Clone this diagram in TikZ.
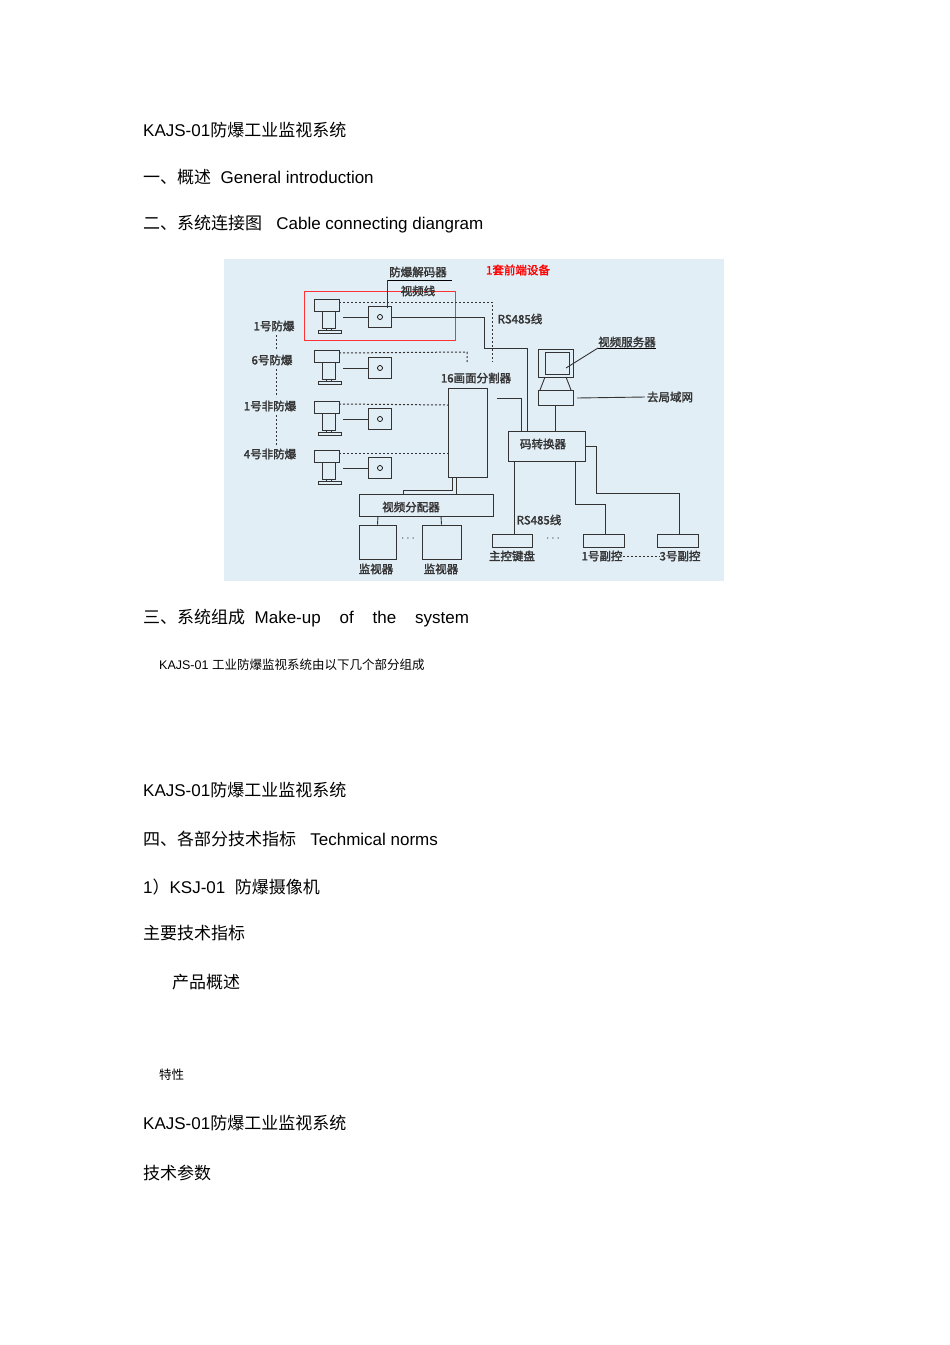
\documentclass[tikz,border=0pt]{standalone}
\usepackage{fontspec}
\setmainfont{Liberation Sans}
\newfontfamily\zh{Noto Sans CJK SC}
\newfontfamily\dz[AutoFakeBold=2]{Noto Sans CJK SC}
\begin{document}
\begin{tikzpicture}[x=1pt,y=-1pt,
  body/.style={anchor=west,inner sep=0pt,font=\fontsize{17}{19}\selectfont},
  small/.style={anchor=west,inner sep=0pt,font=\fontsize{12.5}{14}\selectfont},
  lab/.style={inner sep=0pt,font=\dz\bfseries\fontsize{11.5}{13}\selectfont,text=black!80},
  ln/.style={draw=black!80,line width=0.9pt},
  dl/.style={draw=black!80,line width=1pt,dash pattern=on 2pt off 2pt},
  bx/.style={draw=black!80,line width=0.9pt,fill=none}]
\useasboundingbox (0,0) rectangle (950,1345);
\fill[white] (0,0) rectangle (950,1345);
% body text
\node[body] (t1) at (143,130) {KAJS-01{\zh 防爆工业监视系统}};
\node[body] (t2) at (143,177) {{\zh 一、概述}\ \ General introduction};
\node[body] (t3) at (143,224) {{\zh 二、系统连接图}\ \ \ Cable connecting diangram};
\node[body] (t4) at (143,618) {{\zh 三、系统组成}\ \ Make-up\ \ \ \ of\ \ \ \ the\ \ \ \ system};
\node[small] (t5) at (159,665) {KAJS-01 {\zh 工业防爆监视系统由以下几个部分组成}};
\node[body] (t6) at (143,790) {KAJS-01{\zh 防爆工业监视系统}};
\node[body] (t7) at (143,839) {{\zh 四、各部分技术指标}\ \ \ Techmical norms};
\node[body] (t8) at (143,887) {1{\zh ）}KSJ-01\ \ {\zh 防爆摄像机}};
\node[body] (t9) at (143,933) {\zh 主要技术指标};
\node[body] (t10) at (172,982) {\zh 产品概述};
\node[small] (t11) at (159,1075) {\zh 特性};
\node[body] (t12) at (143,1123) {KAJS-01{\zh 防爆工业监视系统}};
\node[body] (t13) at (143,1173) {\zh 技术参数};
% diagram background
\fill[fill={rgb,255:red,226;green,238;blue,246}] (224,259) rectangle (724,581);
% cameras + decoders
\foreach \i/\y in {1/299,2/350,3/401,4/450}{
  \draw[bx] (314,\y) rectangle (339,\y+12);
  \draw[bx] (322,\y+12) rectangle (335,\y+29);
  \draw[ln] (326,\y+29) -- (326,\y+31) (331,\y+29) -- (331,\y+31);
  \draw[bx] (318,\y+31) rectangle (341,\y+34);
  \node[bx,minimum width=23pt,minimum height=21pt,inner sep=0pt] (dec\i) at (380,\y+18) {};
  \draw[line width=0.7pt] (dec\i.center) circle (2.5pt);
  \draw[ln] (343,\y+18) -- (dec\i.west);
  \coordinate (cam\i) at (339,\y+3);
}
% red box
\draw[red!80,line width=0.9pt] (304,291) rectangle (455,340);
% left labels
\node[lab] (l1) at (274,326) {1号防爆};
\node[lab] (l2) at (272,360) {6号防爆};
\node[lab] (l3) at (270,406) {1号非防爆};
\node[lab] (l4) at (270,454) {4号非防爆};
\draw[dl] (276,335) -- (276,350) (276,369) -- (276,397) (276,415) -- (276,445);
% splitter
\node[bx,minimum width=39pt,minimum height=89pt,inner sep=0pt] (spl) at (467.5,432.5) {};
\node[lab] (spll) at (476,378) {16画面分割器};
% dotted lines
\draw[dl] (cam1) -- (492,302) -- (492,362);
\draw[dl] (cam2) -- (467,352) -- (467,363);
\draw[dl] (cam3) -- (448,405);
\draw[dl] (cam4) -- (448,453);
% converter
\node[bx,minimum width=77pt,minimum height=30pt,inner sep=0pt] (conv) at (546.5,446) {};
\node[lab] (convl) at (543,444) {码转换器};
\draw[ln] (dec1.east) -- (484,317) -- (484,348) -- (527,348) -- (527,431);
\draw[ln] (497,398) -- (521,398) -- (521,431);
% video server
\draw[bx] (538,349) rectangle (573,377);
\draw[bx] (545,352) rectangle (569,374);
\draw[ln] (545,377) -- (540,390) (566,377) -- (571,390);
\node[bx,minimum width=35pt,minimum height=15pt,inner sep=0pt] (vsb) at (555.5,397.5) {};
\draw[ln] (555.5,405) -- (555.5,431);
\node[lab] (lan) at (670,397) {去局域网};
\draw[ln] (577,398) -- ([xshift=-2pt]lan.west);
\node[lab] (vsl) at (627,342) {视频服务器};
\draw[line width=0.6pt] ([yshift=-1pt]vsl.south west) -- ([yshift=-1pt]vsl.south east);
\draw[ln] (566,368) -- (598,348);
% decoder label
\node[lab] (decl) at (418,272) {防爆解码器};
\draw[line width=0.6pt] (387,280) -- (452,280);
\draw[ln] (387,308) -- (387,280);
\node[lab] (vl) at (418,291) {视频线};
\node[lab] (rs1) at (520,319) {RS485线};
\node[lab,text=red] (front) at (518,270) {1套前端设备};
% distributor
\node[bx,minimum width=134pt,minimum height=22pt,inner sep=0pt] (dist) at (426,505) {};
\node[lab] (distl) at (411,507) {视频分配器};
\draw[ln] (452,477) -- (452,490) -- (403,490) -- (403,494);
\draw[ln] (456,477) -- (456,494);
\node[bx,minimum width=37pt,minimum height=34pt,inner sep=0pt] (m1) at (377.5,542) {};
\node[bx,minimum width=39pt,minimum height=34pt,inner sep=0pt] (m2) at (441.5,542) {};
\draw[ln] (378,516) -- (m1.north);
\draw[ln] (441,516) -- (m2.north);
\node[lab] at (408,539) {$\cdots$};
\node[lab] (m1l) at (376,569) {监视器};
\node[lab] (m2l) at (441,569) {监视器};
% keyboards
\node[bx,minimum width=40pt,minimum height=13pt,inner sep=0pt] (kb) at (512,540.5) {};
\node[bx,minimum width=41pt,minimum height=13pt,inner sep=0pt] (s1) at (603.5,540.5) {};
\node[bx,minimum width=41pt,minimum height=13pt,inner sep=0pt] (s3) at (677.5,540.5) {};
\draw[ln] (514,461) -- (514,534);
\draw[ln] (575,461) -- (575,504) -- (605,504) -- (605,534);
\draw[ln] (585,446) -- (596,446) -- (596,493) -- (679,493) -- (679,534);
\node[lab] (rs2) at (539,520) {RS485线};
\node[lab] at (553,539) {$\cdots$};
\node[lab] (kbl) at (512,556) {主控键盘};
\node[lab] (s1l) at (602,556) {1号副控};
\node[lab] (s3l) at (680,556) {3号副控};
\draw[dl,line width=0.7pt] (s1l.east) -- (s3l.west);
\end{tikzpicture}
\end{document}
